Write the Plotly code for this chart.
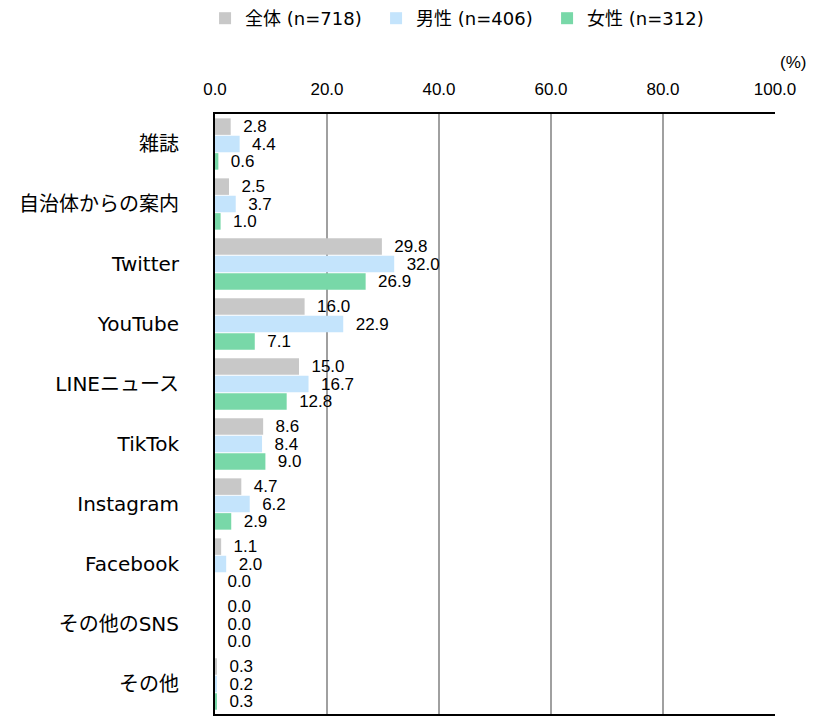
import plotly.graph_objects as go

categories = ["雑誌", "自治体からの案内", "Twitter", "YouTube", "LINEニュース",
              "TikTok", "Instagram", "Facebook", "その他のSNS", "その他"]
series_names = ["全体 (n=718)", "男性 (n=406)", "女性 (n=312)"]
all_vals = [2.8, 2.5, 29.8, 16.0, 15.0, 8.6, 4.7, 1.1, 0.0, 0.3]
male_vals = [4.4, 3.7, 32.0, 22.9, 16.7, 8.4, 6.2, 2.0, 0.0, 0.2]
female_vals = [0.6, 1.0, 26.9, 7.1, 12.8, 9.0, 2.9, 0.0, 0.0, 0.3]
colors = ["#C8C8C8", "#C4E4FC", "#78D8A8"]
tick_vals = [0, 20, 40, 60, 80, 100]
tick_text = ["0.0", "20.0", "40.0", "60.0", "80.0", "100.0"]

fig = go.Figure()
for name, vals, col in zip(series_names, [all_vals, male_vals, female_vals], colors):
    fig.add_trace(go.Bar(
        y=categories, x=vals, name=name, orientation="h",
        marker=dict(color=col, line=dict(width=0)),
        text=[f"\u00a0\u00a0{v:.1f}" for v in vals],
        textposition="outside", cliponaxis=False, constraintext="none",
        textfont=dict(family="Liberation Sans, Arial", size=17, color="#000000"),
    ))

fig.update_layout(
    width=817, height=716,
    margin=dict(l=215, r=42, t=114, b=0),
    paper_bgcolor="white", plot_bgcolor="white",
    barmode="group", bargap=0.13, bargroupgap=0.05,
    font=dict(family="DejaVu Sans, Noto Sans CJK JP", color="#000000"),
    legend=dict(orientation="h", x=0.251, xanchor="left", xref="container",
                y=1.0, yanchor="top", yref="container",
                font=dict(size=18, family="DejaVu Sans, Noto Sans CJK JP"),
                itemwidth=30, entrywidth=126, entrywidthmode="pixels",
                traceorder="normal"),
    xaxis=dict(side="top", range=[0, 100], tickvals=tick_vals, ticktext=tick_text,
               showgrid=True, gridcolor="#A0A0A0", gridwidth=1.5,
               showline=True, linecolor="#000000", linewidth=2, mirror=True,
               ticks="", tickfont=dict(size=17, family="Liberation Sans, Arial"),
               ticklabelstandoff=10, zeroline=False, fixedrange=True),
    yaxis=dict(autorange="reversed", showline=True, linecolor="#000000", linewidth=2,
               ticks="", tickfont=dict(size=20, family="DejaVu Sans, Noto Sans CJK JP"),
               ticklabelstandoff=30, showgrid=False),
)
fig.update_layout(annotations=[dict(text="(%)", x=1.005, xref="paper", xanchor="left",
                                    y=1.0, yref="paper", yanchor="bottom", yshift=40,
                                    showarrow=False,
                                    font=dict(size=17, family="Liberation Sans, Arial"))])
fig.write_html("out.html")
